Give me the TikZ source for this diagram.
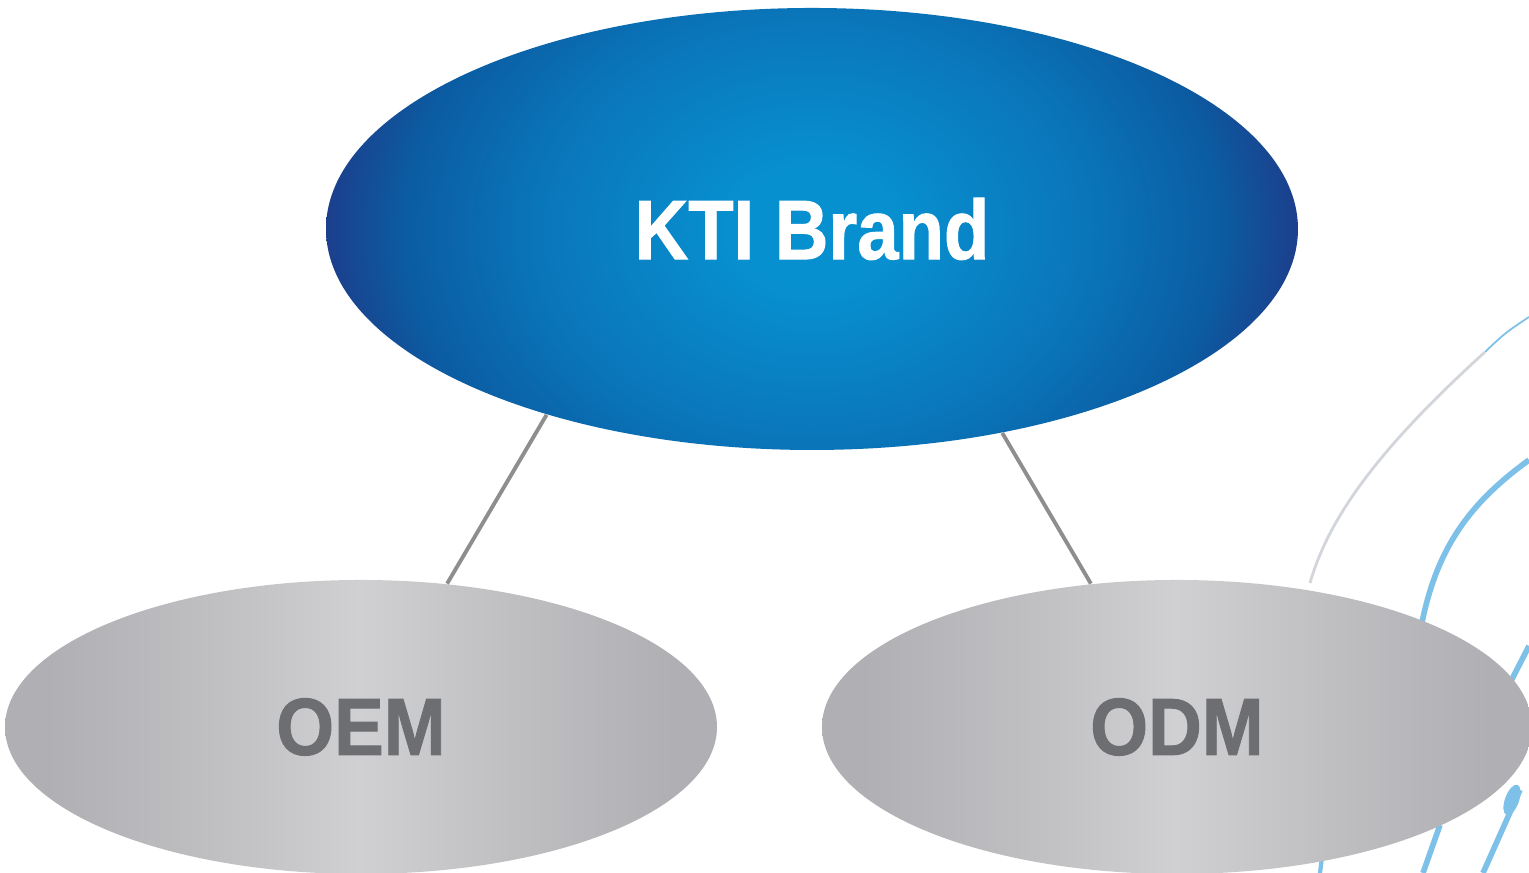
\documentclass[tikz,border=0pt]{standalone}
\usepackage{fontspec}
\setmainfont{Liberation Sans}
\newfontfamily\heavyfont{Liberation Sans Bold}[FakeBold=1.2]
\usepackage{tikz}
\usetikzlibrary{shapes.geometric}

\definecolor{ktilight}{HTML}{0790D0}
\definecolor{ktimid}{HTML}{0A76BA}
\definecolor{ktidark}{HTML}{0B5CA2}
\definecolor{ktiedge}{HTML}{1C3F8C}
\definecolor{greyedge}{HTML}{B0B0B4}
\definecolor{greymid}{HTML}{C0C0C3}
\definecolor{greylight}{HTML}{D0D0D2}
\definecolor{labelgrey}{HTML}{6D6E71}
\definecolor{linkgrey}{HTML}{8E8E8E}
\definecolor{arcblue}{HTML}{7DC0E8}
\definecolor{arcgrey}{HTML}{D2D6DA}

\pgfdeclareradialshading{ktiblue}{\pgfpoint{0bp}{0bp}}{color(0bp)=(ktilight); color(4bp)=(ktilight); color(14bp)=(ktimid); color(21bp)=(ktidark); color(25bp)=(ktiedge); color(50bp)=(ktiedge)}
\pgfdeclarehorizontalshading{greyband}{100bp}{color(0bp)=(greyedge); color(28bp)=(greyedge); color(40bp)=(greymid); color(50bp)=(greylight); color(60bp)=(greymid); color(72bp)=(greyedge); color(100bp)=(greyedge)}

\tikzset{
  brand/.style={ellipse, inner sep=0pt, text=white,
    path picture={\shade [shading=ktiblue]
      ([yshift=-1.6cm]path picture bounding box.south west) rectangle
      ([yshift=1.6cm]path picture bounding box.north east);},
    font=\heavyfont\fontsize{24}{28}\selectfont},
  service/.style={ellipse, inner sep=0pt, shading=greyband, text=labelgrey,
    minimum width=7.1cm, minimum height=2.94cm,
    font=\heavyfont\fontsize{23}{27}\selectfont},
  link/.style={draw=linkgrey, line width=1.1pt},
  wave/.style={draw=arcblue, line width=1.6pt}
}

\begin{document}
\begin{tikzpicture}
\useasboundingbox [fill=white] (0,0) rectangle (15.29,8.73);
% background arcs
\draw [arcblue, line width=0.5pt] (15.29,5.56) .. controls (15.05,5.40) .. (14.85,5.21);
\draw [arcgrey, line width=0.8pt] (14.85,5.21) .. controls (13.85,4.30) and (13.30,3.60) .. (13.10,2.90);
\draw [wave] (15.29,4.13) .. controls (14.70,3.70) and (14.35,3.25) .. (14.20,2.40);
\draw [wave] (15.29,2.27) -- (15.10,1.90);
\draw [wave] (14.40,0.48) -- (14.23,0.00);
\draw [wave] (15.20,0.83) -- (14.83,0.00);
\draw [arcblue, line width=1.2pt] (13.22,0.16) -- (13.20,0.00);
\fill [arcblue] (15.12,0.73) ellipse [x radius=0.07, y radius=0.16, rotate=-20];

\node (kti) [brand, minimum width=9.72cm, minimum height=4.42cm] at (8.12,6.44)
  {\scalebox{0.88}[1]{KTI Brand}};
\node (oem) [service, minimum width=7.12cm] at (3.61,1.46) {\scalebox{0.92}[1]{OEM}};
\node (odm) [service] at (11.77,1.46) {\scalebox{0.92}[1]{ODM}};

\draw [link] (kti.215) -- (oem.59);
\draw [link] (kti.313) -- (odm.121);
\end{tikzpicture}
\end{document}
